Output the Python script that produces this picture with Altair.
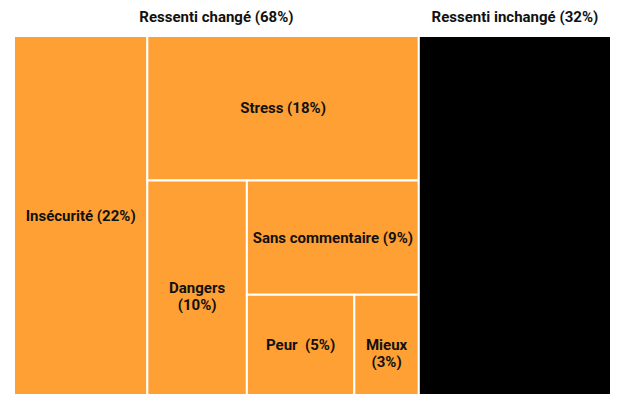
import altair as alt
import pandas as pd

# Data (percent of respondents)
groups = ["Ressenti changé (68%)", "Ressenti inchangé (32%)"]
group_colors = ["#FFA034", "#000000"]
changed_labels = ["Insécurité (22%)", "Stress (18%)", "Dangers\n(10%)",
                  "Sans commentaire (9%)", "Peur\u00a0 (5%)", "Mieux\n(3%)"]
changed_values = [22.2, 18.2, 9.9, 9.1, 5.0, 3.0]
unchanged_value = 32.0

total = sum(changed_values) + unchanged_value
changed_total = sum(changed_values)

TREE_H = 359      # pixel height of the treemap
HEAD_H = 28       # pixel height of the header band above it
head = 100 * HEAD_H / TREE_H   # header band in data units


def strip_layout(values, x0, y0, x1, y1):
    """Alternating slice layout: column, row, column, row, ..."""
    rects = []
    remaining = sum(values)
    for i, v in enumerate(values):
        if i == len(values) - 1:
            rects.append((x0, y0, x1, y1))
            break
        frac = v / remaining
        if i % 2 == 0:  # column on the left
            w = (x1 - x0) * frac
            rects.append((x0, y0, x0 + w, y1))
            x0 += w
        else:  # row on the top
            h = (y1 - y0) * frac
            rects.append((x0, y0, x1, y0 + h))
            y0 += h
        remaining -= v
    return rects


rows = []
for lab, val, (a, b, c, d) in zip(changed_labels, changed_values,
                                  strip_layout(changed_values, 0, 0, changed_total, 100)):
    rows.append(dict(label=lab, value=val, x=a, y=b, x2=c, y2=d, group=groups[0],
                     cx=(a + c) / 2, cy=(b + d) / 2))
rows.append(dict(label="", value=unchanged_value, x=changed_total, y=0, x2=total, y2=100,
                 group=groups[1], cx=(changed_total + total) / 2, cy=50))
df = pd.DataFrame(rows)

titles = pd.DataFrame({
    "group": groups,
    "cx": [changed_total / 2, changed_total + unchanged_value / 2],
    "cy": [-0.68 * head, -0.68 * head],
})

xs = alt.Scale(domain=[0, total], nice=False, zero=False)
ys = alt.Scale(domain=[-head, 100], reverse=True, nice=False, zero=False)

rects = alt.Chart(df).mark_rect(stroke="white", strokeWidth=2).encode(
    x=alt.X("x:Q", scale=xs, axis=None),
    x2="x2:Q",
    y=alt.Y("y:Q", scale=ys, axis=None),
    y2="y2:Q",
    color=alt.Color("group:N", scale=alt.Scale(domain=groups, range=group_colors), legend=None),
)

labels = alt.Chart(df).mark_text(
    font="Roboto", fontWeight="bold", fontSize=15, color="#111111",
    align="center", baseline="middle", lineBreak="\n", lineHeight=17,
).encode(
    x=alt.X("cx:Q", scale=xs),
    y=alt.Y("cy:Q", scale=ys),
    text="label:N",
)

title_text = alt.Chart(titles).mark_text(
    font="Roboto", fontWeight="bold", fontSize=15, color="#111111",
    align="center", baseline="middle",
).encode(
    x=alt.X("cx:Q", scale=xs),
    y=alt.Y("cy:Q", scale=ys),
    text="group:N",
)

chart = alt.layer(rects, labels, title_text).properties(
    width=597, height=TREE_H + HEAD_H,
    autosize=alt.AutoSizeParams(type="none"),
    padding={"left": 6, "top": 0, "right": 0, "bottom": 0},
).configure_view(stroke=None)

chart.save("out.html", embed_options={"renderer": "svg", "actions": False})
